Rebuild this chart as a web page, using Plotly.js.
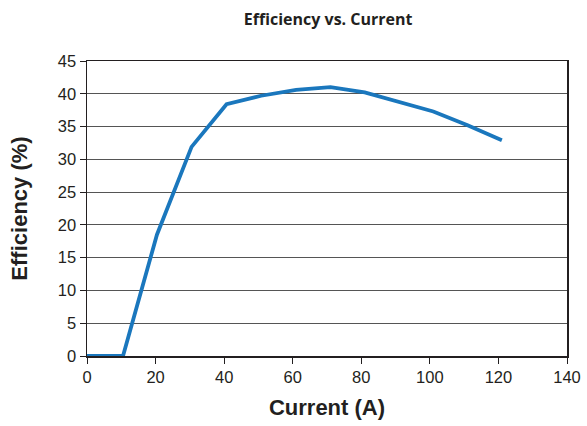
<!DOCTYPE html>
<html><head><meta charset="utf-8">
<script src="https://cdn.plot.ly/plotly-3.0.1.min.js"></script>
<style>body{margin:0;background:#fff}#chart{width:587px;height:426px}</style>
</head><body><div id="chart"></div>
<script>
const currentA = [0, 10.5, 20.4, 30.5, 40.7, 50.8, 61, 71, 81, 91, 101, 111, 121];
const efficiencyPct = [0, 0, 18.5, 31.9, 38.4, 39.7, 40.6, 41.0, 40.2, 38.8, 37.3, 35.2, 32.9];
const xTicks = [0, 20, 40, 60, 80, 100, 120, 140];
const yTicks = [0, 5, 10, 15, 20, 25, 30, 35, 40, 45];

Plotly.newPlot('chart', [{
  x: currentA, y: efficiencyPct, type: 'scatter', mode: 'lines',
  line: {color: '#1a77bd', width: 3.8}, hoverinfo: 'none'
}], {
  width: 587, height: 426,
  margin: {l: 87, r: 20, t: 61, b: 70},
  paper_bgcolor: '#fff', plot_bgcolor: '#fff',
  showlegend: false,
  title: {text: '<b>Efficiency vs. Current</b>', x: 0.559, xanchor: 'center', y: 0.955, yanchor: 'middle',
          font: {family: 'Open Sans', size: 16, color: '#231f20'}},
  xaxis: {range: [0, 140], tickvals: xTicks, ticks: 'outside', ticklen: 6, tickcolor: '#231f20',
          showgrid: false, zeroline: false, showline: true, linecolor: '#231f20', linewidth: 1.5, mirror: true,
          tickfont: {family: 'Liberation Sans', size: 16.5, color: '#231f20'},
          title: {text: '<b>Current (A)</b>', standoff: 14, font: {family: 'Liberation Sans', size: 22, color: '#231f20'}}},
  yaxis: {range: [0, 45], tickvals: yTicks, ticks: 'outside', ticklen: 6, tickcolor: '#231f20',
          showgrid: true, gridcolor: '#555', gridwidth: 1, zeroline: false,
          showline: true, linecolor: '#231f20', linewidth: 1.5, mirror: true,
          tickfont: {family: 'Liberation Sans', size: 16.5, color: '#231f20'},
          title: {text: '<b>Efficiency (%)</b>', standoff: 24, font: {family: 'Liberation Sans', size: 22, color: '#231f20'}}}
}, {staticPlot: true});
</script></body></html>
